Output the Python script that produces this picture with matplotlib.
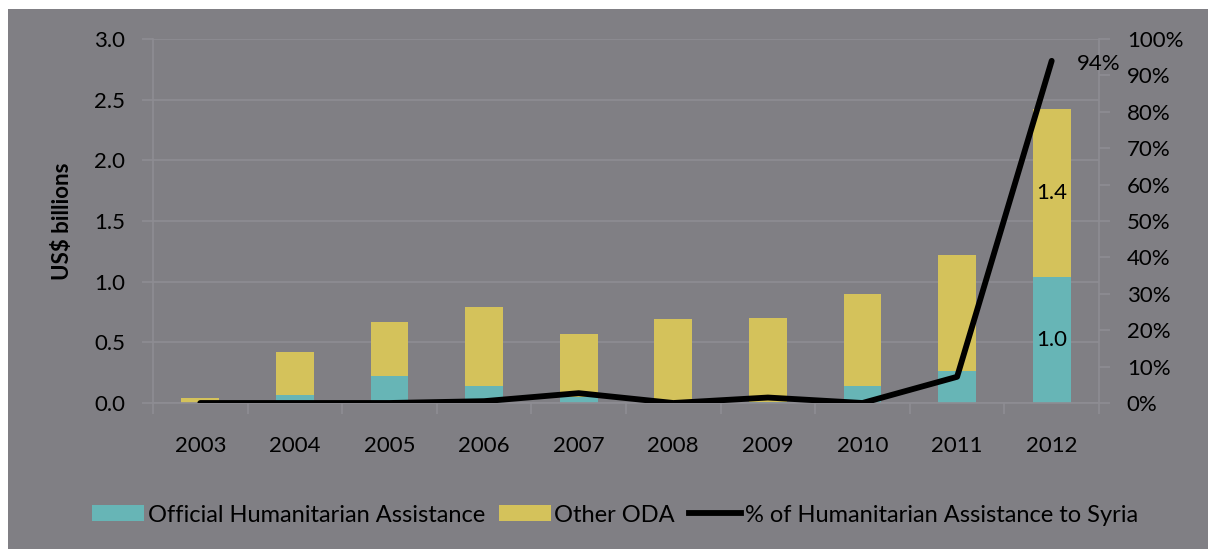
import matplotlib
matplotlib.use('Agg')
import matplotlib.pyplot as plt
from matplotlib.patches import Patch
from matplotlib.lines import Line2D
import numpy as np

# Data (US$ billions and % share)
years = ['2003', '2004', '2005', '2006', '2007', '2008', '2009', '2010', '2011', '2012']
oha = [0.0, 0.063, 0.22, 0.14, 0.05, 0.0, 0.01, 0.14, 0.264, 1.04]
other_oda = [0.04, 0.357, 0.448, 0.65, 0.52, 0.695, 0.69, 0.756, 0.956, 1.38]
pct_syria = [0.0, 0.0, 0.0, 0.5, 2.7, 0.0, 1.5, 0.0, 7.2, 94.0]

BG = '#807f84'
GRID = '#8e8d93'
TEAL = '#67b5b6'
YELLOW = '#d4c25b'

plt.rcParams['font.family'] = ['Lato', 'DejaVu Sans']

fig = plt.figure(figsize=(12.08, 5.49), dpi=100)
fig.patch.set_facecolor('white')
# grey chart area with a thin white margin on top/left
fig.add_artist(plt.Rectangle((8 / 1208, 0), 1 - 8 / 1208, 1 - 9 / 549,
                             transform=fig.transFigure, facecolor=BG,
                             edgecolor='none', zorder=0))

ax = fig.add_axes([153 / 1208, 1 - 403 / 549, (1099 - 153) / 1208, (403 - 39) / 549])
ax.set_facecolor(BG)
ax.patch.set_alpha(0)

x = np.arange(len(years))
w = 0.4
ax.bar(x, oha, w, color=TEAL, zorder=2)
ax.bar(x, other_oda, w, bottom=oha, color=YELLOW, zorder=2)

ax.set_xlim(-0.5, len(years) - 0.5)
ax.set_ylim(0, 3.0)
ax.set_yticks(np.arange(0, 3.01, 0.5))
ax.set_yticklabels([f'{v:.1f}' for v in np.arange(0, 3.01, 0.5)])
ax.yaxis.grid(True, color=GRID, linewidth=1.2, zorder=0)
ax.set_axisbelow(True)

ax.set_xticks(x)
ax.set_xticklabels(years)
ax.set_xticks(np.arange(-0.5, len(years)), minor=True)
ax.tick_params(axis='x', which='major', length=0, pad=24, labelsize=16)
ax.tick_params(axis='x', which='minor', length=8, color=GRID, width=1.2)
ax.tick_params(axis='y', length=8, color=GRID, width=1.2, pad=12, labelsize=16)

for side in ['top', 'right']:
    ax.spines[side].set_visible(False)
for side in ['left', 'bottom']:
    ax.spines[side].set_color(GRID)
    ax.spines[side].set_linewidth(1.2)

ax.set_ylabel('US$ billions', fontsize=16, fontweight='bold', labelpad=15)

# data labels on 2012 bar
ax.text(x[-1], oha[-1] / 2, f'{oha[-1]:.1f}', ha='center', va='center', fontsize=16, zorder=4)
ax.text(x[-1], oha[-1] + other_oda[-1] / 2, f'{other_oda[-1]:.1f}',
        ha='center', va='center', fontsize=16, zorder=4)

# percentage line on secondary axis
ax2 = ax.twinx()
ax2.plot(x, pct_syria, color='black', linewidth=4.2, zorder=5, solid_capstyle='round')
ax2.set_ylim(0, 100)
ax2.set_yticks(np.arange(0, 101, 10))
ax2.set_yticklabels([f'{v}%' for v in range(0, 101, 10)])
ax2.tick_params(axis='y', length=8, color=GRID, width=1.2, pad=12, labelsize=16)
for side in ['top', 'left', 'bottom']:
    ax2.spines[side].set_visible(False)
ax2.spines['right'].set_color(GRID)
ax2.spines['right'].set_linewidth(1.2)
ax2.text(x[-1] + 0.27, pct_syria[-1] - 1, f'{pct_syria[-1]:.0f}%', ha='left', va='center', fontsize=16)

handles = [Patch(facecolor=TEAL, edgecolor='none'),
           Patch(facecolor=YELLOW, edgecolor='none'),
           Line2D([0], [0], color='black', linewidth=4.2)]
labels = ['Official Humanitarian Assistance', 'Other ODA', '% of Humanitarian Assistance to Syria']
fig.legend(handles, labels, loc='center', bbox_to_anchor=(615 / 1208, 1 - 515 / 549),
           ncol=3, frameon=False, fontsize=17, handlelength=2.2, handleheight=0.65,
           handletextpad=0.15, columnspacing=0.6)

fig.savefig('out.png', dpi=100, facecolor=fig.get_facecolor())
